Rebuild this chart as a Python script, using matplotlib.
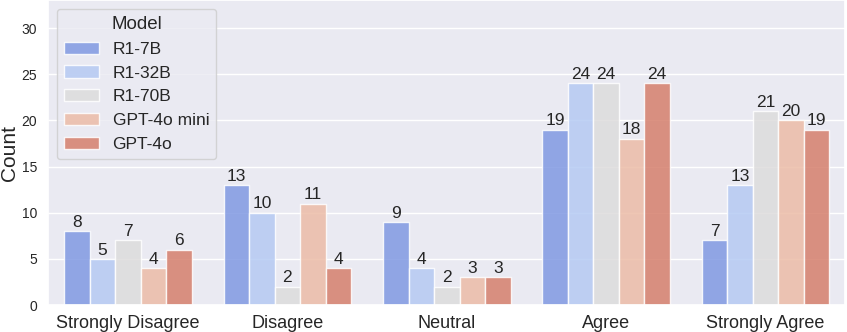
import matplotlib
matplotlib.use("Agg")
import matplotlib.pyplot as plt
import numpy as np
import pandas as pd
import seaborn as sns

responses = ["Strongly Disagree", "Disagree", "Neutral", "Agree", "Strongly Agree"]
models = ["R1-7B", "R1-32B", "R1-70B", "GPT-4o mini", "GPT-4o"]
counts = {
    "R1-7B": [8, 13, 9, 19, 7],
    "R1-32B": [5, 10, 4, 24, 13],
    "R1-70B": [7, 2, 2, 24, 21],
    "GPT-4o mini": [4, 11, 3, 18, 20],
    "GPT-4o": [6, 4, 3, 24, 19],
}

rows = []
for m in models:
    for r, c in zip(responses, counts[m]):
        rows.append({"Response": r, "Model": m, "Count": c})
df = pd.DataFrame(rows)

sns.set_theme(style="darkgrid")
plt.rcParams["font.family"] = ["Liberation Sans", "DejaVu Sans"]

fig, ax = plt.subplots(figsize=(8.47, 3.32), dpi=100)
sns.barplot(data=df, x="Response", y="Count", hue="Model", order=responses,
            hue_order=models, palette="coolwarm", alpha=0.85,
            edgecolor="white", linewidth=1, ax=ax)

for cont in ax.containers:
    ax.bar_label(cont, fontsize=12.5, padding=1)

ax.set_ylim(0, 33)
ax.set_xlabel("")
ax.set_ylabel("Count", fontsize=15, labelpad=2)
ax.tick_params(axis="x", labelsize=13, pad=1)
ax.tick_params(axis="y", labelsize=10, pad=2)
ax.legend(title="Model", fontsize=12.5, title_fontsize=13.5, loc="upper left")

fig.subplots_adjust(left=0.057, right=0.998, top=0.999, bottom=0.081)
fig.savefig("out.png", dpi=100)
